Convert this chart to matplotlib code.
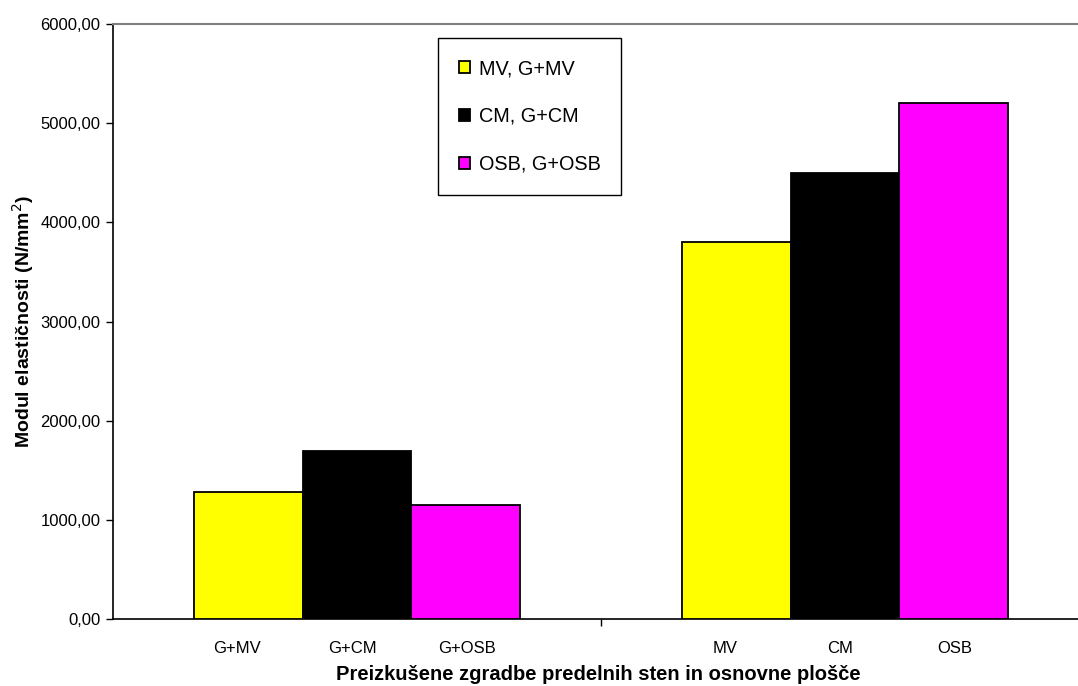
import numpy as np
import matplotlib.pyplot as plt
from matplotlib.ticker import FuncFormatter

# Data
groups = ["G+", ""]
series_names = ["MV, G+MV", "CM, G+CM", "OSB, G+OSB"]
bar_labels = [["G+MV", "G+CM", "G+OSB"], ["MV", "CM", "OSB"]]
mv_vals = [1280, 3800]
cm_vals = [1690, 4500]
osb_vals = [1150, 5200]
colors = ["#FFFF00", "#000000", "#FF00FF"]

plt.rcParams['font.family'] = ['Liberation Sans', 'DejaVu Sans']

fig = plt.figure(figsize=(10.78, 6.86), dpi=100)
# plot area runs a little past the right edge, as in the original
ax = fig.add_axes([113 / 1078, 1 - 619 / 686, 976 / 1078, 595 / 686])

x = np.arange(len(groups))
width = 1 / 4.5
label_step = 0.235  # category text is spaced a bit wider than the bars
all_vals = [mv_vals, cm_vals, osb_vals]
tick_pos, tick_lab = [], []
for i, (vals, c, name) in enumerate(zip(all_vals, colors, series_names)):
    pos = x + (i - 1) * width
    ax.bar(pos, vals, width, color=c, edgecolor="black", linewidth=1.3,
           label=name, zorder=3)
    for g in range(len(groups)):
        tick_pos.append(x[g] + (i - 1) * label_step - 0.01)
        tick_lab.append(bar_labels[g][i])

ax.set_xlim(-0.5, 1.5)
ax.set_ylim(0, 6000)
ax.set_yticks(np.arange(0, 6001, 1000))
ax.yaxis.set_major_formatter(FuncFormatter(lambda v, p: f"{v:.2f}".replace(".", ",")))
ax.tick_params(axis="y", labelsize=12, length=5, width=1, direction="out", pad=4)

ax.set_xticks(tick_pos)
ax.set_xticklabels(tick_lab, fontsize=12)
ax.tick_params(axis="x", length=0, pad=16)
ax.set_xticks([0.5], minor=True)
ax.tick_params(axis="x", which="minor", length=5, width=1)

ax.spines["top"].set_color("#808080")
ax.spines["top"].set_linewidth(1.5)
ax.spines["right"].set_visible(False)
ax.spines["left"].set_linewidth(1.2)
ax.spines["bottom"].set_linewidth(1.2)

ax.set_ylabel("Modul elastičnosti (N/mm$^2$)", fontsize=14, fontweight="bold", labelpad=3)
fig.text(598 / 1078, 1 - 675 / 686, "Preizkušene zgradbe predelnih sten in osnovne plošče",
         ha="center", va="center", fontsize=14.5, fontweight="bold")

leg = ax.legend(loc="upper left", bbox_to_anchor=(0.333, 0.976), fontsize=14.3,
                frameon=True, fancybox=False, edgecolor="black", framealpha=1,
                handlelength=0.55, handleheight=0.55, handletextpad=0.45,
                labelspacing=1.45, borderpad=1.05, borderaxespad=0)
leg.get_frame().set_linewidth(1)
for h in leg.legend_handles:
    h.set_linewidth(1.3)

fig.savefig("out.png", dpi=100)
